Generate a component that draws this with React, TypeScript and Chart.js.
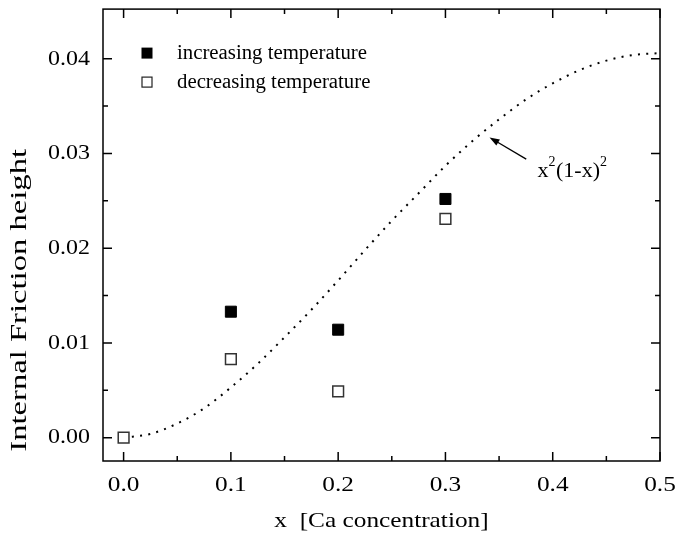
import React, { useEffect, useRef } from 'react';
import { Chart, registerables } from 'chart.js';

Chart.register(...registerables);

// ---------- data ----------
const increasingX = [0.1, 0.2, 0.3];
const increasingValues = [0.0133, 0.0114, 0.0252];

const decreasingX = [0.0, 0.1, 0.2, 0.3];
const decreasingValues = [0.0, 0.0083, 0.0049, 0.0231];

const curveX = [
  0, 0.025, 0.05, 0.075, 0.1, 0.125, 0.15, 0.175, 0.2, 0.225, 0.25,
  0.275, 0.3, 0.325, 0.35, 0.375, 0.4, 0.425, 0.45, 0.475, 0.5,
];
const curveValues = [
  0.0, 0.0004, 0.0015, 0.0031, 0.0053, 0.0078, 0.0106, 0.0135, 0.0166, 0.0198, 0.0229,
  0.0258, 0.0287, 0.0313, 0.0336, 0.0357, 0.0374, 0.0388, 0.0398, 0.0404, 0.0406,
];

const xTickValues = [0, 0.1, 0.2, 0.3, 0.4, 0.5];
const xMinorTickValues = [0.05, 0.15, 0.25, 0.35, 0.45];
const yTickValues = [0, 0.01, 0.02, 0.03, 0.04];
const yMinorTickValues = [0.005, 0.015, 0.025, 0.035];

const xTickLabels = ['0.0', '0.1', '0.2', '0.3', '0.4', '0.5'];
const yTickLabels = ['0.00', '0.01', '0.02', '0.03', '0.04'];
const legendLabels = ['increasing temperature', 'decreasing temperature'];
const xAxisTitle = 'x  [Ca concentration]';
const yAxisTitle = 'Internal Friction height';

const FONT = '"Liberation Serif", "Times New Roman", Times, serif';

function drawStretched(
  ctx: CanvasRenderingContext2D,
  text: string,
  x: number,
  y: number,
  size: number,
  sx: number,
  align: CanvasTextAlign,
  baseline: CanvasTextBaseline,
  rotate = 0
) {
  ctx.save();
  ctx.translate(x, y);
  if (rotate) ctx.rotate(rotate);
  ctx.scale(sx, 1);
  ctx.font = `${size}px ${FONT}`;
  ctx.textAlign = align;
  ctx.textBaseline = baseline;
  ctx.fillStyle = '#000';
  ctx.fillText(text, 0, 0);
  ctx.restore();
}

const decoPlugin = {
  id: 'deco',
  afterDraw(chart: any) {
    const { ctx, chartArea, scales } = chart;
    const { left, right, top, bottom } = chartArea;
    const xs = scales.x;
    const ys = scales.y;
    ctx.save();
    ctx.strokeStyle = '#000';
    ctx.fillStyle = '#000';
    ctx.lineWidth = 1.5;
    // frame
    ctx.strokeRect(left, top, right - left, bottom - top);
    // ticks (inward, all four sides)
    const major = 9;
    const minor = 5;
    const xTick = (v: number, len: number) => {
      const p = xs.getPixelForValue(v);
      ctx.beginPath();
      ctx.moveTo(p, bottom);
      ctx.lineTo(p, bottom - len);
      ctx.moveTo(p, top);
      ctx.lineTo(p, top + len);
      ctx.stroke();
    };
    const yTick = (v: number, len: number) => {
      const p = ys.getPixelForValue(v);
      ctx.beginPath();
      ctx.moveTo(left, p);
      ctx.lineTo(left + len, p);
      ctx.moveTo(right, p);
      ctx.lineTo(right - len, p);
      ctx.stroke();
    };
    xTickValues.forEach((v) => xTick(v, major));
    xMinorTickValues.forEach((v) => xTick(v, minor));
    yTickValues.forEach((v) => yTick(v, major));
    yMinorTickValues.forEach((v) => yTick(v, minor));

    // tick labels
    xTickValues.forEach((v, i) => {
      drawStretched(ctx, xTickLabels[i], xs.getPixelForValue(v), bottom + 24.5, 22, 1.15, 'center', 'middle');
    });
    yTickValues.forEach((v, i) => {
      drawStretched(ctx, yTickLabels[i], left - 13, ys.getPixelForValue(v), 22, 1.09, 'right', 'middle');
    });

    // axis titles
    drawStretched(ctx, xAxisTitle, (left + right) / 2, bottom + 60, 22, 1.15, 'center', 'middle');
    drawStretched(ctx, yAxisTitle, 20, ys.getPixelForValue(0.0145), 24, 1.36, 'center', 'middle', -Math.PI / 2);

    // legend
    const lx = left + 44;
    const rows = [top + 44, top + 73];
    rows.forEach((ry, i) => {
      if (i === 0) {
        ctx.fillStyle = '#000';
        ctx.fillRect(lx - 5.5, ry - 5.5, 11, 11);
      } else {
        ctx.fillStyle = '#fff';
        ctx.fillRect(lx - 5, ry - 5, 10, 10);
        ctx.lineWidth = 1.2;
        ctx.strokeStyle = '#222';
        ctx.strokeRect(lx - 5, ry - 5, 10, 10);
      }
      drawStretched(ctx, legendLabels[i], lx + 30, ry, 20.8, 1, 'left', 'middle');
    });

    // annotation arrow
    const tipX = xs.getPixelForValue(0.3411);
    const tipY = ys.getPixelForValue(0.0317);
    const tailX = xs.getPixelForValue(0.3753);
    const tailY = ys.getPixelForValue(0.0294);
    const ang = Math.atan2(tipY - tailY, tipX - tailX);
    const hl = 10;
    const hw = 3.5;
    ctx.strokeStyle = '#000';
    ctx.lineWidth = 1.3;
    ctx.beginPath();
    ctx.moveTo(tailX, tailY);
    ctx.lineTo(tipX - Math.cos(ang) * hl * 0.8, tipY - Math.sin(ang) * hl * 0.8);
    ctx.stroke();
    ctx.fillStyle = '#000';
    ctx.beginPath();
    ctx.moveTo(tipX, tipY);
    ctx.lineTo(
      tipX - Math.cos(ang) * hl + Math.sin(ang) * hw,
      tipY - Math.sin(ang) * hl - Math.cos(ang) * hw
    );
    ctx.lineTo(
      tipX - Math.cos(ang) * hl - Math.sin(ang) * hw,
      tipY - Math.sin(ang) * hl + Math.cos(ang) * hw
    );
    ctx.closePath();
    ctx.fill();

    // annotation text x^2(1-x)^2
    let tx = xs.getPixelForValue(0.3858);
    const ty = ys.getPixelForValue(0.02747);
    ctx.textBaseline = 'alphabetic';
    ctx.textAlign = 'left';
    const big = `22px ${FONT}`;
    const small = `14px ${FONT}`;
    const parts: [string, boolean][] = [
      ['x', false],
      ['2', true],
      ['(1-x)', false],
      ['2', true],
    ];
    parts.forEach(([t, sup]) => {
      ctx.font = sup ? small : big;
      ctx.fillText(t, tx, sup ? ty - 11 : ty);
      tx += ctx.measureText(t).width + (sup ? 0.5 : 0);
    });
    ctx.restore();
  },
};

const zeroPad = (scale: any) => {
  scale.paddingTop = 0;
  scale.paddingBottom = 0;
  scale.paddingLeft = 0;
  scale.paddingRight = 0;
};

export default function App() {
  const ref = useRef<HTMLCanvasElement | null>(null);

  useEffect(() => {
    document.body.style.margin = '0';
    const canvas = ref.current;
    if (!canvas) return;

    const chart = new Chart(canvas, {
      type: 'scatter',
      data: {
        datasets: [
          {
            label: 'increasing temperature',
            data: increasingX.map((x, i) => ({ x, y: increasingValues[i] })),
            pointStyle: 'rect',
            pointRadius: 7.8,
            pointBackgroundColor: '#000',
            pointBorderColor: '#000',
            pointBorderWidth: 1,
            showLine: false,
            order: 1,
          },
          {
            label: 'decreasing temperature',
            data: decreasingX.map((x, i) => ({ x, y: decreasingValues[i] })),
            pointStyle: 'rect',
            pointRadius: 7.6,
            pointBackgroundColor: '#fff',
            pointBorderColor: '#333',
            pointBorderWidth: 1.5,
            showLine: false,
            order: 2,
          },
          {
            label: 'x^2(1-x)^2',
            data: curveX.map((x, i) => ({ x, y: curveValues[i] })),
            showLine: true,
            pointRadius: 0,
            borderColor: '#000',
            borderWidth: 2,
            borderDash: [2, 6.3],
            cubicInterpolationMode: 'monotone',
            fill: false,
            order: 3,
          },
        ],
      },
      options: {
        animation: false,
        responsive: false,
        devicePixelRatio: 1,
        layout: { padding: { left: 0, top: 8, right: 18, bottom: 0 } },
        plugins: {
          legend: { display: false },
          tooltip: { enabled: false },
        },
        scales: {
          x: {
            type: 'linear',
            min: -0.0192,
            max: 0.5,
            grid: { display: false },
            border: { display: false },
            afterBuildTicks: (scale: any) => {
              scale.ticks = xTickValues.map((v) => ({ value: v }));
            },
            afterFit: (scale: any) => {
              scale.height = 74;
              zeroPad(scale);
            },
            ticks: { display: false },
            title: { display: false, text: xAxisTitle },
          },
          y: {
            type: 'linear',
            min: -0.00246,
            max: 0.04524,
            grid: { display: false },
            border: { display: false },
            afterBuildTicks: (scale: any) => {
              scale.ticks = yTickValues.map((v) => ({ value: v }));
            },
            afterFit: (scale: any) => {
              scale.width = 103;
              zeroPad(scale);
            },
            ticks: { display: false },
            title: { display: false, text: yAxisTitle },
          },
        },
      },
      plugins: [decoPlugin],
    } as any);

    return () => chart.destroy();
  }, []);

  return (
    <div style={{ width: 678, height: 535, background: '#fff' }}>
      <canvas ref={ref} width={678} height={535} style={{ display: 'block', width: 678, height: 535 }} />
    </div>
  );
}
